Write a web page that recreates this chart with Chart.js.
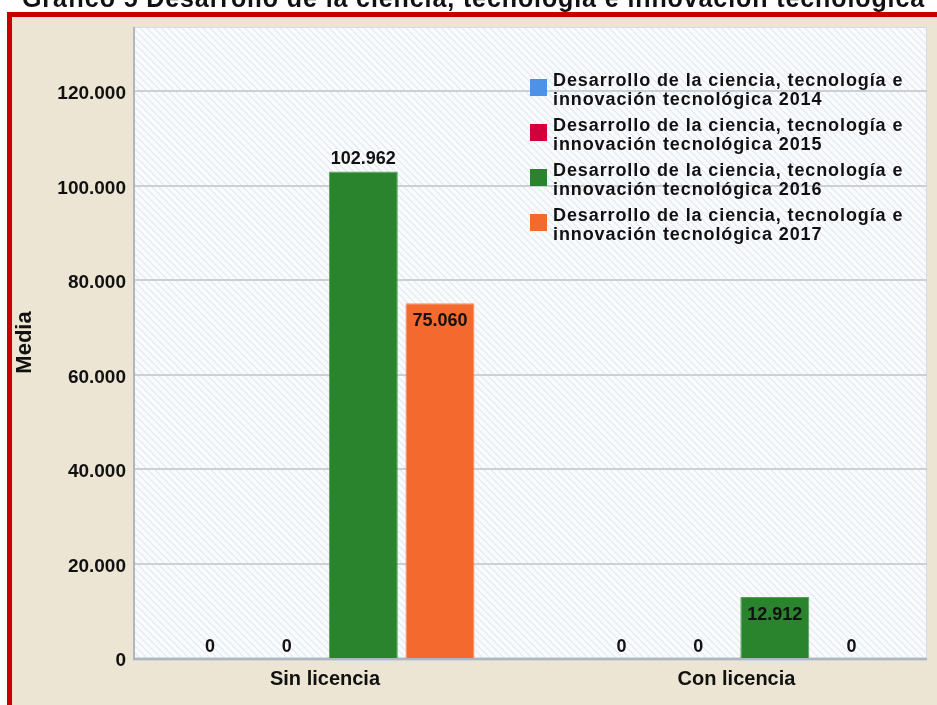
<!DOCTYPE html>
<html><head><meta charset="utf-8">
<script src="https://cdn.jsdelivr.net/npm/chart.js@4/dist/chart.umd.min.js"></script>
<style>
html,body{margin:0;padding:0;background:#fff;overflow:hidden;width:937px;height:705px;}
#frame{position:absolute;left:7px;top:12px;width:1000px;height:800px;border-left:5px solid #C40000;border-top:5px solid #C40000;background:#ECE5D3;}
#c{position:absolute;left:0;top:0;}
</style></head><body>
<div id="frame"></div>
<canvas id="c" width="952" height="705"></canvas>
<script>
const titleText = 'Gráfico 5 Desarrollo de la ciencia, tecnología e innovación tecnológica';
const yAxisTitle = 'Media';
const categories = ['Sin licencia', 'Con licencia'];
const seriesNames = [
  'Desarrollo de la ciencia, tecnología e innovación tecnológica 2014',
  'Desarrollo de la ciencia, tecnología e innovación tecnológica 2015',
  'Desarrollo de la ciencia, tecnología e innovación tecnológica 2016',
  'Desarrollo de la ciencia, tecnología e innovación tecnológica 2017'
];
const values2014 = [0, 0];
const values2015 = [0, 0];
const values2016 = [102962, 12912];
const values2017 = [75060, 0];
const yTicks = [0, 20000, 40000, 60000, 80000, 100000, 120000];
const yMax = 133550;

const seriesColors = ['#4C93E6', '#D4003B', '#2A842E', '#F46A2E'];
const seriesBorders = ['#6FA8EA', '#DE3360', '#55A058', '#F88C5A'];
const FONT = '"Liberation Sans", Arial, sans-serif';

function fmt(v) {
  return Math.round(v).toString().replace(/\B(?=(\d{3})+(?!\d))/g, '.');
}

const PLOT_LEFT = 133, PLOT_RIGHT = 927;

function makePattern(ctx) {
  const s = 7;
  const p = document.createElement('canvas'); p.width = s; p.height = s;
  const g = p.getContext('2d');
  g.fillStyle = '#FAFBFD'; g.fillRect(0, 0, s, s);
  g.strokeStyle = '#E2E8F0'; g.lineWidth = 1.2;
  g.beginPath();
  g.moveTo(-1, -1); g.lineTo(s + 1, s + 1);
  g.moveTo(-1, s - 1); g.lineTo(1, s + 1);
  g.moveTo(s - 1, -1); g.lineTo(s + 1, 1);
  g.stroke();
  return ctx.createPattern(p, 'repeat');
}

const plotBg = {
  id: 'plotBg',
  beforeDatasetsDraw(chart) {
    const ctx = chart.ctx, a = chart.chartArea, ys = chart.scales.y;
    ctx.save();
    ctx.fillStyle = makePattern(ctx);
    ctx.fillRect(PLOT_LEFT, a.top, PLOT_RIGHT - PLOT_LEFT, a.bottom - a.top);
    ctx.strokeStyle = '#D5DCE5'; ctx.lineWidth = 1;
    ctx.strokeRect(PLOT_LEFT + 0.5, a.top + 0.5, PLOT_RIGHT - PLOT_LEFT - 1, a.bottom - a.top - 1);
    ctx.strokeStyle = '#CDD0D3'; ctx.lineWidth = 2;
    yTicks.forEach(t => {
      if (t === 0) return;
      const y = Math.round(ys.getPixelForValue(t));
      ctx.beginPath(); ctx.moveTo(PLOT_LEFT, y); ctx.lineTo(PLOT_RIGHT, y); ctx.stroke();
    });
    ctx.strokeStyle = '#AEB6C0'; ctx.lineWidth = 2;
    ctx.beginPath();
    ctx.moveTo(PLOT_LEFT + 1, a.top); ctx.lineTo(PLOT_LEFT + 1, a.bottom + 1);
    ctx.lineTo(PLOT_RIGHT, a.bottom + 1);
    ctx.stroke();
    ctx.strokeStyle = '#D2D6DB'; ctx.lineWidth = 1;
    ctx.beginPath(); ctx.moveTo(PLOT_LEFT, a.bottom + 2.5); ctx.lineTo(PLOT_RIGHT, a.bottom + 2.5); ctx.stroke();
    ctx.font = 'bold 19px ' + FONT;
    ctx.fillStyle = '#111';
    ctx.textAlign = 'right';
    ctx.textBaseline = 'middle';
    yTicks.forEach(t => {
      ctx.fillText(fmt(t), 126, ys.getPixelForValue(t) + 3);
    });
    ctx.restore();
  }
};

function wrapText(ctx, text, maxW) {
  const words = text.split(' ');
  const lines = []; let cur = '';
  words.forEach(w => {
    const test = cur ? cur + ' ' + w : w;
    if (ctx.measureText(test).width > maxW && cur) { lines.push(cur); cur = w; }
    else cur = test;
  });
  if (cur) lines.push(cur);
  return lines;
}

const labelsAndLegend = {
  id: 'labelsAndLegend',
  afterDatasetsDraw(chart) {
    const ctx = chart.ctx;
    ctx.save();
    ctx.font = 'bold 18px ' + FONT;
    ctx.fillStyle = '#111';
    ctx.textAlign = 'center';
    ctx.textBaseline = 'alphabetic';
    chart.data.datasets.forEach((ds, di) => {
      const meta = chart.getDatasetMeta(di);
      meta.data.forEach((bar, i) => {
        const v = ds.data[i];
        let y;
        if (v === 0) y = bar.base - 6;
        else if (v >= 100000) y = bar.y - 8;
        else y = bar.y + 23;
        ctx.fillText(fmt(v), bar.x, y);
      });
    });
    ctx.font = 'bold 18px ' + FONT;
    ctx.letterSpacing = '0.9px';
    ctx.textAlign = 'left';
    const sqX = 530, txtX = 553, firstBase = 86, lineH = 19, itemH = 45;
    chart.data.datasets.forEach((ds, di) => {
      const base = firstBase + di * itemH;
      ctx.fillStyle = ds.backgroundColor;
      ctx.fillRect(sqX, base - 7, 17, 17);
      ctx.fillStyle = '#111';
      const lines = wrapText(ctx, ds.label, 365);
      lines.forEach((ln, li) => ctx.fillText(ln, txtX, base + li * lineH));
    });
    ctx.restore();
  },
  afterDraw(chart) {
    const ctx = chart.ctx;
    ctx.save();
    ctx.font = 'bold 25px ' + FONT;
    ctx.letterSpacing = '0.9px';
    ctx.fillStyle = '#111';
    ctx.textAlign = 'center';
    ctx.textBaseline = 'alphabetic';
    ctx.fillText(titleText, 473.5, 7);
    ctx.restore();
  }
};

const seriesValues = [values2014, values2015, values2016, values2017];
const datasets = seriesNames.map((name, i) => ({
  label: name,
  data: seriesValues[i],
  backgroundColor: seriesColors[i],
  borderColor: seriesBorders[i],
  borderWidth: 1,
  categoryPercentage: 0.745,
  barPercentage: 0.9
}));

new Chart(document.getElementById('c'), {
  type: 'bar',
  data: { labels: categories, datasets },
  options: {
    responsive: false,
    animation: false,
    devicePixelRatio: 1,
    layout: { padding: { left: 0, top: 27, right: 9.75, bottom: 0 } },
    plugins: { legend: { display: false }, title: { display: false }, tooltip: { enabled: false } },
    scales: {
      x: {
        type: 'category',
        offset: true,
        grid: { display: false, drawTicks: false },
        border: { display: false },
        ticks: { color: '#111', font: { family: FONT, size: 20, weight: 'bold' }, padding: 9, maxRotation: 0 },
        afterFit(s) { s.height = 47; }
      },
      y: {
        min: 0,
        max: yMax,
        grid: { display: false, drawTicks: false },
        border: { display: false },
        ticks: { display: false, stepSize: 20000 },
        afterBuildTicks(s) { s.ticks = yTicks.map(v => ({ value: v })); },
        title: {
          display: true,
          text: yAxisTitle,
          color: '#111',
          font: { family: FONT, size: 22, weight: 'bold' },
          padding: { top: 12, bottom: 0 }
        },
        afterFit(s) { s.width = 119.25; }
      }
    }
  },
  plugins: [plotBg, labelsAndLegend]
});
</script>
</body></html>
